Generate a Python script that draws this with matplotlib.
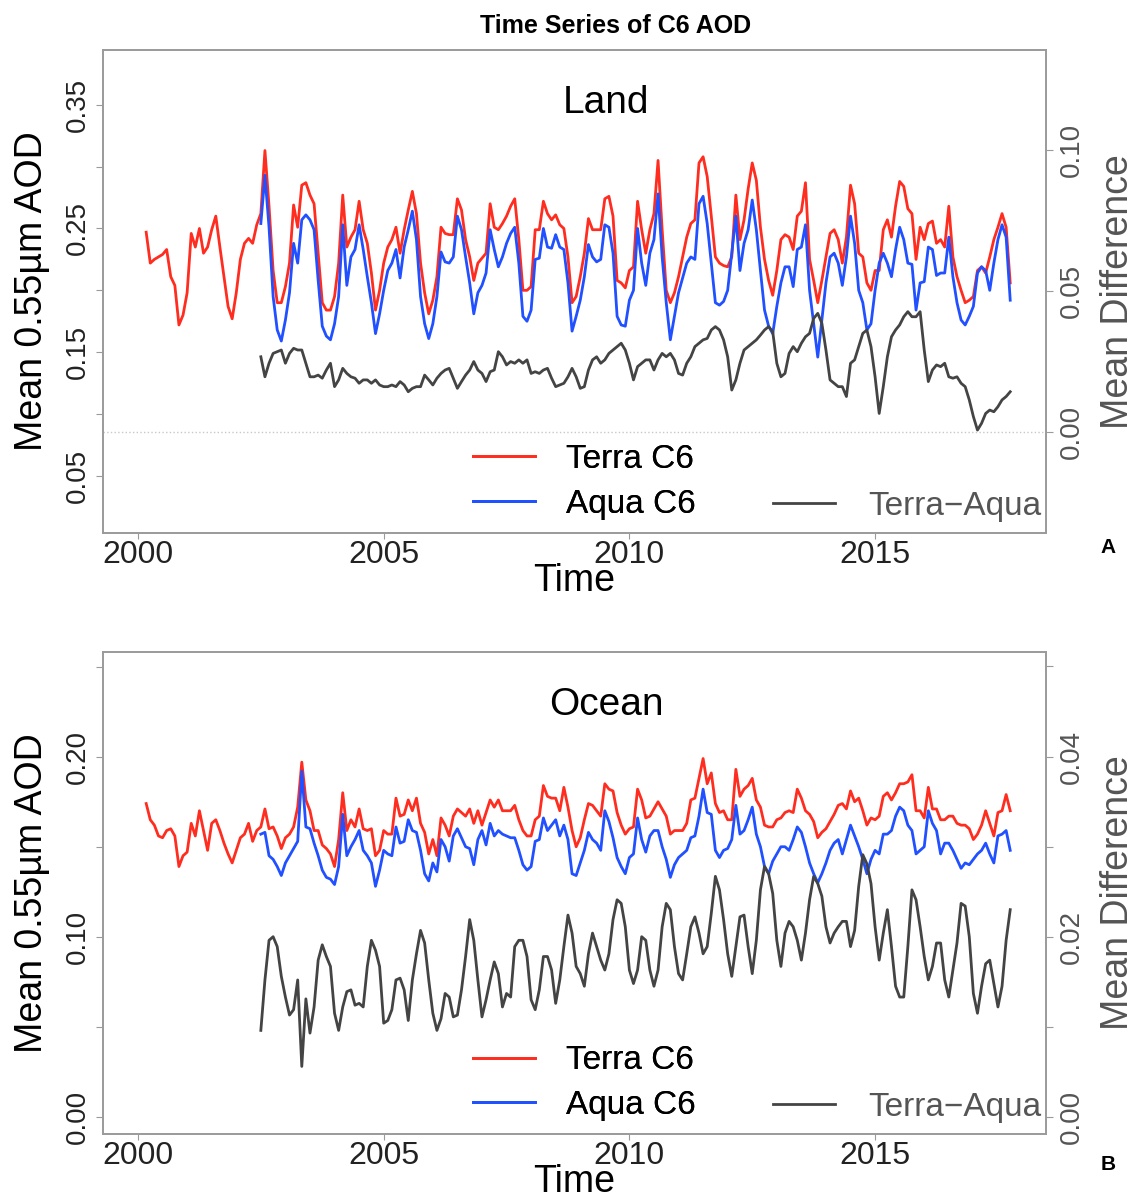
import numpy as np
import matplotlib
matplotlib.use('Agg')
import matplotlib.pyplot as plt
from matplotlib.lines import Line2D

plt.rcParams['font.family'] = ['Liberation Sans', 'DejaVu Sans']

# ---- data (monthly means) ----
# Terra starts Mar 2000, Aqua and the difference start Jul 2002, all end Oct 2017
terra_start = 2000 + 2 / 12
aqua_start = 2002 + 6 / 12

terra_land = [
    0.247, 0.222, 0.225, 0.227, 0.229, 0.233, 0.211, 0.204, 0.172, 0.180,  # 2000
    0.198, 0.246, 0.235, 0.250, 0.230, 0.235, 0.249, 0.260, 0.235, 0.211, 0.187, 0.177,
    0.198, 0.225, 0.238, 0.242, 0.238, 0.253, 0.262, 0.313, 0.268, 0.216, 0.190, 0.190,
    0.203, 0.222, 0.269, 0.251, 0.285, 0.287, 0.277, 0.270, 0.230, 0.190, 0.184, 0.184,
    0.195, 0.222, 0.277, 0.235, 0.243, 0.249, 0.272, 0.249, 0.238, 0.214, 0.184, 0.200,
    0.222, 0.235, 0.241, 0.251, 0.230, 0.249, 0.265, 0.280, 0.262, 0.222, 0.198, 0.181,
    0.192, 0.211, 0.251, 0.246, 0.245, 0.245, 0.274, 0.265, 0.241, 0.227, 0.208, 0.222,
    0.226, 0.230, 0.270, 0.251, 0.249, 0.254, 0.260, 0.268, 0.274, 0.241, 0.200, 0.200,
    0.203, 0.249, 0.249, 0.272, 0.262, 0.257, 0.261, 0.253, 0.250, 0.227, 0.190, 0.195,
    0.211, 0.230, 0.258, 0.249, 0.249, 0.249, 0.274, 0.276, 0.260, 0.208, 0.206, 0.202,
    0.216, 0.219, 0.272, 0.249, 0.230, 0.249, 0.262, 0.305, 0.249, 0.200, 0.190, 0.198,
    0.211, 0.227, 0.243, 0.254, 0.257, 0.303, 0.308, 0.292, 0.260, 0.227, 0.222, 0.220,
    0.219, 0.227, 0.277, 0.241, 0.257, 0.282, 0.303, 0.289, 0.251, 0.225, 0.208, 0.196,
    0.216, 0.241, 0.245, 0.243, 0.233, 0.260, 0.264, 0.287, 0.225, 0.208, 0.190, 0.208,
    0.227, 0.246, 0.249, 0.241, 0.222, 0.243, 0.285, 0.270, 0.230, 0.227, 0.206, 0.200,
    0.216, 0.216, 0.249, 0.257, 0.243, 0.268, 0.288, 0.284, 0.266, 0.262, 0.225, 0.251,
    0.241, 0.254, 0.256, 0.238, 0.241, 0.235, 0.268, 0.227, 0.211, 0.200, 0.190, 0.192,
    0.195, 0.216, 0.219, 0.214, 0.227, 0.241, 0.251, 0.262, 0.251, 0.206,  # 2017
]

aqua_land = [
    0.254, 0.293, 0.251, 0.195, 0.168, 0.159,  # 2002
    0.176, 0.198, 0.238, 0.222, 0.257, 0.261, 0.257, 0.249, 0.208, 0.171, 0.163, 0.160,
    0.173, 0.195, 0.253, 0.204, 0.227, 0.233, 0.253, 0.233, 0.211, 0.190, 0.165, 0.181,
    0.200, 0.216, 0.222, 0.233, 0.210, 0.235, 0.249, 0.264, 0.241, 0.195, 0.173, 0.161,
    0.173, 0.195, 0.231, 0.223, 0.222, 0.227, 0.260, 0.249, 0.227, 0.206, 0.181, 0.198,
    0.204, 0.214, 0.249, 0.233, 0.219, 0.227, 0.238, 0.246, 0.251, 0.222, 0.179, 0.175,
    0.184, 0.225, 0.226, 0.250, 0.235, 0.234, 0.245, 0.235, 0.233, 0.206, 0.167, 0.179,
    0.192, 0.211, 0.237, 0.227, 0.223, 0.225, 0.253, 0.251, 0.230, 0.179, 0.172, 0.171,
    0.192, 0.200, 0.250, 0.222, 0.204, 0.230, 0.241, 0.278, 0.227, 0.190, 0.160, 0.179,
    0.198, 0.210, 0.222, 0.227, 0.225, 0.270, 0.276, 0.254, 0.222, 0.190, 0.188, 0.191,
    0.200, 0.230, 0.260, 0.216, 0.238, 0.249, 0.273, 0.249, 0.216, 0.184, 0.171, 0.165,
    0.187, 0.206, 0.219, 0.219, 0.203, 0.233, 0.235, 0.253, 0.200, 0.173, 0.146, 0.176,
    0.206, 0.227, 0.230, 0.222, 0.204, 0.227, 0.260, 0.238, 0.200, 0.190, 0.168, 0.173,
    0.200, 0.222, 0.230, 0.222, 0.211, 0.233, 0.251, 0.241, 0.222, 0.221, 0.184, 0.206,
    0.207, 0.235, 0.233, 0.212, 0.214, 0.214, 0.243, 0.211, 0.190, 0.176, 0.172, 0.179,
    0.187, 0.214, 0.219, 0.216, 0.200, 0.222, 0.241, 0.253, 0.243, 0.192,  # 2017
]

diff_land = [
    0.0266, 0.0195, 0.0243, 0.0278, 0.0284, 0.0290,  # 2002
    0.0243, 0.0278, 0.0296, 0.0290, 0.0290, 0.0243, 0.0195, 0.0195, 0.0201, 0.0190, 0.0219, 0.0243,
    0.0160, 0.0184, 0.0225, 0.0207, 0.0195, 0.0190, 0.0172, 0.0184, 0.0184, 0.0172, 0.0184, 0.0166,
    0.0160, 0.0160, 0.0166, 0.0160, 0.0178, 0.0166, 0.0142, 0.0154, 0.0160, 0.0160, 0.0201, 0.0184,
    0.0166, 0.0190, 0.0207, 0.0219, 0.0225, 0.0190, 0.0154, 0.0178, 0.0201, 0.0219, 0.0249, 0.0219,
    0.0207, 0.0178, 0.0213, 0.0219, 0.0284, 0.0266, 0.0237, 0.0249, 0.0243, 0.0255, 0.0243, 0.0255,
    0.0207, 0.0213, 0.0207, 0.0219, 0.0225, 0.0190, 0.0160, 0.0166, 0.0172, 0.0195, 0.0225, 0.0195,
    0.0154, 0.0160, 0.0219, 0.0255, 0.0266, 0.0243, 0.0255, 0.0278, 0.0290, 0.0302, 0.0314, 0.0290,
    0.0243, 0.0184, 0.0231, 0.0243, 0.0255, 0.0255, 0.0219, 0.0255, 0.0278, 0.0266, 0.0278, 0.0255,
    0.0207, 0.0201, 0.0243, 0.0266, 0.0302, 0.0314, 0.0326, 0.0331, 0.0361, 0.0373, 0.0361, 0.0326,
    0.0266, 0.0148, 0.0184, 0.0243, 0.0290, 0.0302, 0.0314, 0.0326, 0.0343, 0.0361, 0.0373, 0.0355,
    0.0243, 0.0195, 0.0207, 0.0278, 0.0302, 0.0284, 0.0314, 0.0337, 0.0349, 0.0402, 0.0420, 0.0385,
    0.0290, 0.0184, 0.0172, 0.0160, 0.0160, 0.0125, 0.0243, 0.0255, 0.0302, 0.0349, 0.0361, 0.0302,
    0.0195, 0.0065, 0.0160, 0.0266, 0.0337, 0.0361, 0.0379, 0.0408, 0.0426, 0.0408, 0.0408, 0.0426,
    0.0290, 0.0178, 0.0219, 0.0237, 0.0231, 0.0243, 0.0195, 0.0190, 0.0195, 0.0172, 0.0160, 0.0113,
    0.0054, 0.0006, 0.0030, 0.0065, 0.0077, 0.0071, 0.0089, 0.0113, 0.0125, 0.0142,  # 2017
]

terra_ocean = [
    0.174, 0.165, 0.162, 0.156, 0.155, 0.159, 0.160, 0.156, 0.139, 0.145,  # 2000
    0.147, 0.163, 0.156, 0.170, 0.159, 0.148, 0.163, 0.165, 0.159, 0.152, 0.146, 0.141,
    0.148, 0.155, 0.157, 0.163, 0.153, 0.159, 0.161, 0.171, 0.160, 0.161, 0.156, 0.149,
    0.155, 0.157, 0.161, 0.172, 0.197, 0.176, 0.170, 0.159, 0.159, 0.151, 0.149, 0.146,
    0.139, 0.154, 0.180, 0.159, 0.165, 0.161, 0.171, 0.160, 0.159, 0.160, 0.145, 0.148,
    0.159, 0.157, 0.157, 0.177, 0.167, 0.168, 0.176, 0.170, 0.177, 0.163, 0.158, 0.146,
    0.154, 0.145, 0.166, 0.162, 0.156, 0.167, 0.171, 0.169, 0.167, 0.171, 0.163, 0.170,
    0.162, 0.169, 0.176, 0.172, 0.176, 0.170, 0.170, 0.170, 0.173, 0.165, 0.159, 0.156,
    0.156, 0.165, 0.167, 0.184, 0.178, 0.177, 0.177, 0.170, 0.183, 0.172, 0.159, 0.150,
    0.155, 0.165, 0.174, 0.173, 0.170, 0.167, 0.185, 0.182, 0.181, 0.169, 0.162, 0.157,
    0.160, 0.161, 0.182, 0.176, 0.166, 0.167, 0.171, 0.175, 0.171, 0.167, 0.157, 0.159,
    0.159, 0.159, 0.163, 0.176, 0.177, 0.188, 0.199, 0.185, 0.191, 0.174, 0.169, 0.170,
    0.165, 0.165, 0.193, 0.178, 0.182, 0.184, 0.188, 0.176, 0.172, 0.162, 0.161, 0.161,
    0.165, 0.166, 0.169, 0.170, 0.169, 0.182, 0.177, 0.170, 0.168, 0.164, 0.155, 0.158,
    0.160, 0.164, 0.168, 0.173, 0.174, 0.171, 0.181, 0.175, 0.177, 0.170, 0.162, 0.166,
    0.165, 0.167, 0.178, 0.180, 0.176, 0.180, 0.185, 0.185, 0.186, 0.190, 0.170, 0.170,
    0.166, 0.183, 0.171, 0.171, 0.165, 0.165, 0.167, 0.167, 0.163, 0.162, 0.162, 0.160,
    0.154, 0.157, 0.162, 0.170, 0.163, 0.156, 0.169, 0.170, 0.179, 0.170,  # 2017
]

aqua_ocean = [
    0.157, 0.158, 0.145, 0.143, 0.139, 0.134,  # 2002
    0.141, 0.145, 0.149, 0.153, 0.192, 0.161, 0.160, 0.152, 0.145, 0.137, 0.133, 0.132,
    0.129, 0.139, 0.168, 0.145, 0.150, 0.154, 0.159, 0.148, 0.145, 0.141, 0.128, 0.137,
    0.148, 0.146, 0.145, 0.161, 0.152, 0.153, 0.165, 0.159, 0.158, 0.148, 0.135, 0.131,
    0.141, 0.136, 0.154, 0.150, 0.142, 0.156, 0.160, 0.155, 0.150, 0.149, 0.140, 0.154,
    0.159, 0.151, 0.163, 0.156, 0.159, 0.157, 0.156, 0.155, 0.155, 0.148, 0.140, 0.137,
    0.139, 0.153, 0.154, 0.166, 0.159, 0.162, 0.165, 0.156, 0.162, 0.154, 0.135, 0.134,
    0.141, 0.148, 0.158, 0.154, 0.152, 0.148, 0.170, 0.164, 0.155, 0.144, 0.139, 0.135,
    0.144, 0.146, 0.166, 0.154, 0.147, 0.156, 0.159, 0.159, 0.150, 0.143, 0.133, 0.140,
    0.144, 0.146, 0.148, 0.155, 0.156, 0.167, 0.182, 0.169, 0.168, 0.148, 0.144, 0.148,
    0.149, 0.154, 0.173, 0.157, 0.159, 0.165, 0.172, 0.157, 0.150, 0.139, 0.135, 0.142,
    0.146, 0.150, 0.150, 0.148, 0.154, 0.161, 0.158, 0.150, 0.141, 0.135, 0.130, 0.135,
    0.141, 0.148, 0.152, 0.154, 0.146, 0.154, 0.162, 0.156, 0.150, 0.143, 0.135, 0.143,
    0.148, 0.146, 0.157, 0.157, 0.159, 0.167, 0.172, 0.170, 0.162, 0.159, 0.146, 0.148,
    0.150, 0.170, 0.163, 0.159, 0.146, 0.152, 0.152, 0.148, 0.143, 0.138, 0.141, 0.140,
    0.143, 0.146, 0.148, 0.152, 0.146, 0.141, 0.156, 0.157, 0.159, 0.148,  # 2017
]

diff_ocean = [
    0.0096, 0.0152, 0.0196, 0.0200, 0.0189, 0.0156,  # 2002
    0.0133, 0.0113, 0.0119, 0.0152, 0.0056, 0.0131, 0.0093, 0.0122, 0.0174, 0.0191, 0.0178, 0.0167,
    0.0115, 0.0096, 0.0122, 0.0139, 0.0141, 0.0124, 0.0126, 0.0122, 0.0167, 0.0196, 0.0185, 0.0167,
    0.0104, 0.0107, 0.0119, 0.0152, 0.0154, 0.0141, 0.0107, 0.0152, 0.0181, 0.0207, 0.0193, 0.0152,
    0.0115, 0.0096, 0.0109, 0.0137, 0.0133, 0.0111, 0.0113, 0.0141, 0.0178, 0.0219, 0.0196, 0.0152,
    0.0111, 0.0130, 0.0152, 0.0172, 0.0159, 0.0122, 0.0137, 0.0133, 0.0189, 0.0196, 0.0196, 0.0178,
    0.0130, 0.0119, 0.0141, 0.0178, 0.0178, 0.0163, 0.0126, 0.0152, 0.0189, 0.0224, 0.0204, 0.0167,
    0.0159, 0.0145, 0.0181, 0.0204, 0.0189, 0.0174, 0.0163, 0.0181, 0.0219, 0.0241, 0.0237, 0.0211,
    0.0163, 0.0148, 0.0163, 0.0200, 0.0196, 0.0163, 0.0145, 0.0163, 0.0211, 0.0237, 0.0230, 0.0189,
    0.0159, 0.0152, 0.0181, 0.0211, 0.0222, 0.0204, 0.0181, 0.0189, 0.0226, 0.0267, 0.0252, 0.0219,
    0.0181, 0.0156, 0.0189, 0.0222, 0.0224, 0.0189, 0.0159, 0.0196, 0.0252, 0.0278, 0.0270, 0.0248,
    0.0196, 0.0167, 0.0204, 0.0217, 0.0211, 0.0196, 0.0174, 0.0204, 0.0241, 0.0267, 0.0259, 0.0245,
    0.0211, 0.0193, 0.0204, 0.0211, 0.0217, 0.0217, 0.0189, 0.0207, 0.0256, 0.0291, 0.0281, 0.0259,
    0.0211, 0.0174, 0.0204, 0.0230, 0.0189, 0.0145, 0.0133, 0.0133, 0.0189, 0.0252, 0.0241, 0.0211,
    0.0178, 0.0152, 0.0167, 0.0193, 0.0193, 0.0152, 0.0133, 0.0163, 0.0193, 0.0237, 0.0234, 0.0200,
    0.0137, 0.0115, 0.0145, 0.0170, 0.0174, 0.0148, 0.0122, 0.0145, 0.0196, 0.0230,  # 2017
]

assert len(terra_land) == len(terra_ocean) == 212
assert len(aqua_land) == len(aqua_ocean) == len(diff_land) == len(diff_ocean) == 184

t_terra = terra_start + np.arange(len(terra_land)) / 12
t_aqua = aqua_start + np.arange(len(aqua_land)) / 12

c_terra = '#ff2d1f'
c_aqua = '#2050ff'
c_diff = '#444444'
c_frame = '#9a9a9a'
c_gray_txt = '#555555'
lw = 2.0

W, H = 1137, 1198
fig = plt.figure(figsize=(W / 100, H / 100), dpi=100)


def fmt(ticks, shown):
    return ['%.2f' % v if any(abs(v - s) < 1e-9 for s in shown) else '' for v in ticks]


def panel(rect, terra, aqua, diff, name, ylim, yticks, yshown, dlim, dticks, dshown, zero_line):
    ax = fig.add_axes(rect)
    ax2 = ax.twinx()
    ax.plot(t_terra, terra, color=c_terra, lw=lw)
    ax.plot(t_aqua, aqua, color=c_aqua, lw=lw)
    ax2.plot(t_aqua, diff, color=c_diff, lw=lw)
    if zero_line:
        ax2.axhline(0, color='#c8c8c8', lw=1.0, ls=':')

    ax.set_xlim(1999.288, 2018.478)
    ax.set_ylim(*ylim)
    ax2.set_ylim(*dlim)

    ax.set_xticks([2000, 2005, 2010, 2015])
    ax.tick_params(axis='x', direction='out', length=4, pad=1, labelsize=23,
                   color=c_frame, labelcolor='#222222')
    ax.set_yticks(yticks)
    ax.set_yticklabels(fmt(yticks, yshown), rotation=90, va='center')
    ax.tick_params(axis='y', direction='out', length=5, pad=4, labelsize=20,
                   color=c_frame, labelcolor='#222222')
    ax2.set_yticks(dticks)
    ax2.set_yticklabels(fmt(dticks, dshown), rotation=90, va='center')
    ax2.tick_params(axis='y', direction='out', length=5, pad=4, labelsize=20,
                    color=c_frame, labelcolor=c_gray_txt)

    for a in (ax, ax2):
        for s in a.spines.values():
            s.set_color(c_frame)
            s.set_linewidth(1.2)

    ax.set_xlabel('Time', fontsize=27)
    ax.xaxis.set_label_coords(0.5, -0.062)
    ax.set_ylabel('Mean 0.55µm AOD', fontsize=27)
    ax.yaxis.set_label_coords(-0.056, 0.5)
    ax2.set_ylabel('Mean Difference', fontsize=27, color=c_gray_txt)
    ax2.yaxis.set_label_coords(1.057, 0.5)

    ax.text(0.5334, 0.8696, name, transform=ax.transAxes, ha='center', va='baseline', fontsize=28)

    h1 = [Line2D([], [], color=c_terra, lw=lw), Line2D([], [], color=c_aqua, lw=lw)]
    leg1 = ax.legend(h1, ['Terra C6', 'Aqua C6'], loc='upper left',
                     bbox_to_anchor=(0.3924, 0.184), frameon=False, fontsize=24,
                     borderpad=0, borderaxespad=0, handlelength=1.86,
                     handletextpad=0.93, labelspacing=0.41)
    ax.add_artist(leg1)
    h2 = [Line2D([], [], color=c_diff, lw=lw)]
    leg2 = ax2.legend(h2, ['Terra\u2212Aqua'], loc='upper left',
                      bbox_to_anchor=(0.7105, 0.087), frameon=False, fontsize=24,
                      borderpad=0, borderaxespad=0, handlelength=1.86,
                      handletextpad=0.99)
    for txt in leg2.get_texts():
        txt.set_color(c_gray_txt)
    return ax, ax2


panel([103 / W, 1 - 533 / H, 943 / W, 483 / H], terra_land, aqua_land, diff_land, 'Land',
      (0.0038, 0.3943), np.arange(0.05, 0.351, 0.05), [0.05, 0.15, 0.25, 0.35],
      (-0.0359, 0.1354), [0.0, 0.05, 0.10], [0.0, 0.05, 0.10], True)

panel([103 / W, 1 - 1134 / H, 943 / W, 482 / H], terra_ocean, aqua_ocean, diff_ocean, 'Ocean',
      (-0.0096, 0.2582), np.arange(0.0, 0.251, 0.05), [0.0, 0.10, 0.20],
      (-0.0019, 0.0516), np.arange(0.0, 0.051, 0.01), [0.0, 0.02, 0.04], False)

fig.text(616 / W, 1 - 33 / H, 'Time Series of C6 AOD', ha='center', va='baseline',
         fontsize=18, fontweight='bold')
fig.text(1108 / W, 1 - 548 / H, 'A', ha='center', va='center', fontsize=15, fontweight='bold')
fig.text(1108 / W, 1 - 1165 / H, 'B', ha='center', va='center', fontsize=15, fontweight='bold')

fig.savefig('out.png', dpi=100)
